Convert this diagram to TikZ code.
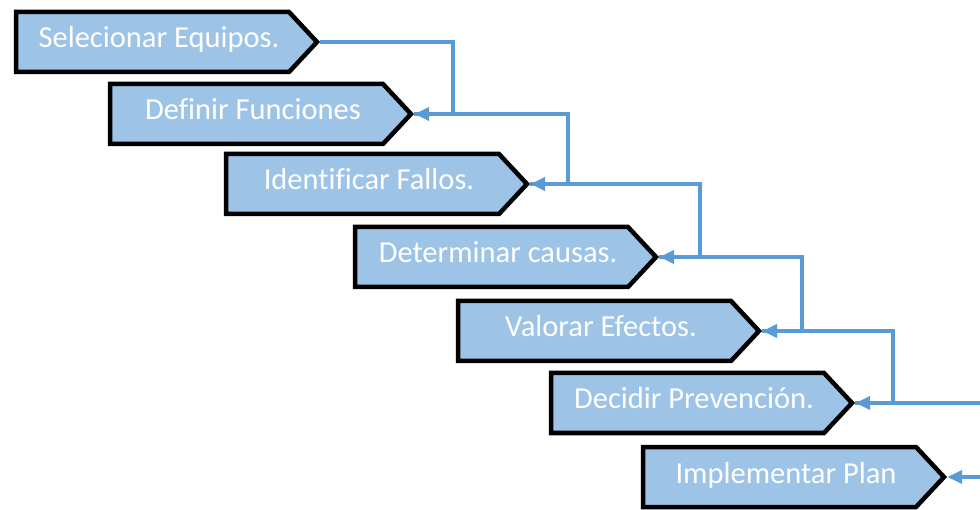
\documentclass[tikz,border=0pt]{standalone}
\usepackage{fontspec}
\setmainfont{Carlito}[Ligatures=NoCommon]
\usetikzlibrary{arrows.meta}
\definecolor{stepfill}{HTML}{9DC3E6}
\definecolor{linkblue}{HTML}{5B9BD5}
\tikzset{
  chev/.style={fill=stepfill, draw=black, line width=4.5pt, line join=miter},
  stepbox/.style={rectangle, inner sep=0pt, minimum width=306pt, minimum height=64pt,
    text=white, text height=20pt, text depth=8pt,
    font=\fontsize{30.5}{33}\selectfont},
  link/.style={draw=linkblue, line width=4pt,
    -{Triangle[length=15pt,width=13pt]}},
}
\begin{document}
\begin{tikzpicture}[x=1pt,y=-1pt]
\useasboundingbox (0,0) rectangle (980,510);
\clip (0,0) rectangle (980,510);
% steps: outer tip position (x,y) and caption
\foreach \n/\x/\y/\t in {
  1/320/42/Selecionar Equipos.,
  2/414/114/Definir Funciones,
  3/530/184/Identificar Fallos.,
  4/659/257/Determinar causas.,
  5/762/331/Valorar Efectos.,
  6/855/403/Decidir Prevención.,
  7/947/477/Implementar Plan}{
  \path[chev] (\x-304,\y-30) -- (\x-31,\y-30) -- (\x-3,\y) -- (\x-31,\y+30)
    -- (\x-304,\y+30) -- cycle;
  \node[stepbox] (s\n) at (\x-153,\y) {\hspace*{-16pt}\t};
}
% elbow links from each step tip to the next one
\draw[link] (s1.east) -- ++(133,0) |- (s2.east);
\draw[link] (s2.east) -- ++(154,0) |- (s3.east);
\draw[link] (s3.east) -- ++(170,0) |- (s4.east);
\draw[link] (s4.east) -- ++(143,0) |- (s5.east);
\draw[link] (s5.east) -- ++(131,0) |- (s6.east);
\draw[link] (s6.east) -- ++(140,0) |- (s7.east);
\end{tikzpicture}
\end{document}
